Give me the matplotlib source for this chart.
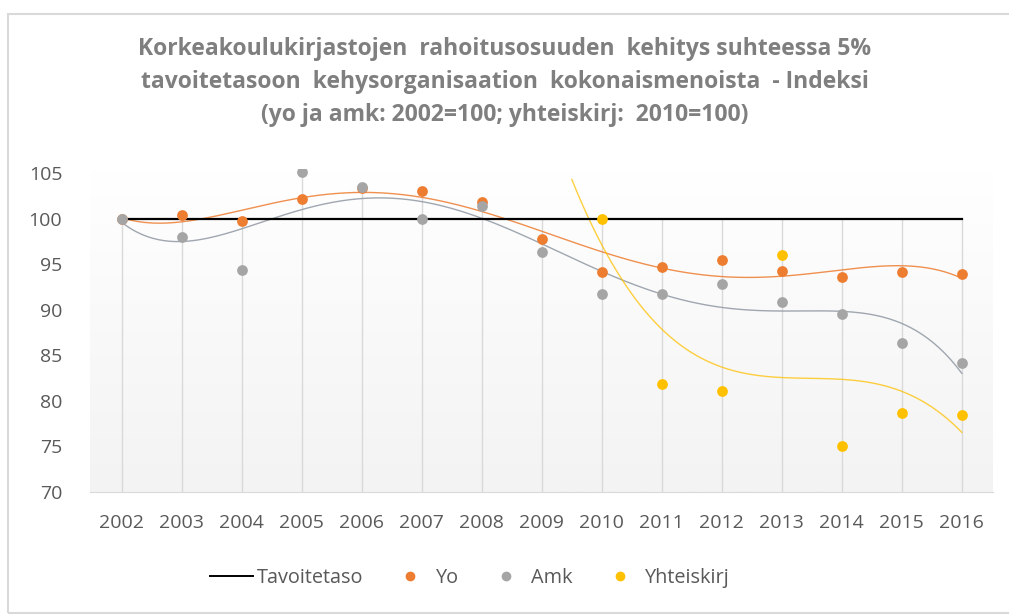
import numpy as np
import matplotlib
matplotlib.use("Agg")
import matplotlib.pyplot as plt
from matplotlib.lines import Line2D
from matplotlib.patches import Rectangle

years = list(range(2002, 2017))
tavoitetaso = [100] * 15
yo = [100.0, 100.4, 99.7, 102.1, 103.4, 103.0, 101.8, 97.8, 94.1, 94.7, 95.5, 94.3, 93.6, 94.1, 93.9]
amk = [100.0, 98.0, 94.4, 105.1, 103.5, 100.0, 101.4, 96.3, 91.7, 91.7, 92.8, 90.8, 89.5, 86.3, 84.1]
yht_years = list(range(2010, 2017))
yhteiskirj = [100.0, 81.8, 81.1, 96.0, 75.1, 78.7, 78.5]
yticks = [70, 75, 80, 85, 90, 95, 100, 105]
title = ("Korkeakoulukirjastojen  rahoitusosuuden  kehitys suhteessa 5%\n"
         "tavoitetasoon  kehysorganisaation  kokonaismenoista  - Indeksi\n"
         "(yo ja amk: 2002=100; yhteiskirj:  2010=100)")

C_YO = "#ED7D31"
C_AMK = "#A5A5A5"
C_YHT = "#FFC000"
TXT = "#595959"

plt.rcParams["font.family"] = ["Open Sans", "DejaVu Sans"]

W, H = 1009, 615
fig = plt.figure(figsize=(W / 100, H / 100), dpi=100)
fig.patch.set_facecolor("white")

ymin, ymax = 70, 105.4
px_per = (492 - 173) / 35.0
top_px = 173 - (ymax - 105) * px_per
ax = fig.add_axes([90 / W, 1 - 492 / H, (993 - 90) / W, (492 - top_px) / H])
ax.set_xlim(2001.47, 2016.52)
ax.set_ylim(ymin, ymax)

# subtle background gradient (white at top, light gray at bottom)
grad = np.linspace(0.0, 1.0, 256).reshape(-1, 1)
ax.imshow(grad, extent=(2001.47, 2016.52, ymin, ymax), aspect="auto",
          cmap=matplotlib.colors.LinearSegmentedColormap.from_list("g", ["#f3f3f3", "#ffffff"]),
          zorder=0, origin="lower")

# drop lines to max of all series
yht_full = {y: v for y, v in zip(yht_years, yhteiskirj)}
for i, yr in enumerate(years):
    vals = [tavoitetaso[i], yo[i], amk[i]]
    if yr in yht_full:
        vals.append(yht_full[yr])
    ax.vlines(yr, ymin, max(vals), color="#d9d9d9", lw=1.0, zorder=1)

ax.plot(years, tavoitetaso, color="black", lw=1.6, zorder=3)

# polynomial trend lines
x = np.array(years, dtype=float)
xs = np.linspace(2002, 2016, 300)
p = np.polyfit(x - 2002, yo, 5)
ax.plot(xs, np.polyval(p, xs - 2002), color=C_YO, lw=1.0, alpha=0.85, zorder=2)
p = np.polyfit(x - 2002, amk, 5)
ax.plot(xs, np.polyval(p, xs - 2002), color="#9098a3", lw=1.0, alpha=0.85, zorder=2)
xy = np.array(yht_years, dtype=float)
p = np.polyfit(xy - 2010, yhteiskirj, 3)
xs2 = np.linspace(2009.5, 2016, 300)
ax.plot(xs2, np.polyval(p, xs2 - 2010), color=C_YHT, lw=1.0, alpha=0.75, zorder=2)

ms = 60
ax.scatter(years, yo, s=ms, color=C_YO, zorder=4, linewidths=0)
ax.scatter(years, amk, s=ms, color=C_AMK, zorder=4, linewidths=0)
ax.scatter(yht_years, yhteiskirj, s=ms, color=C_YHT, zorder=5, linewidths=0)

for s in ["top", "right", "left"]:
    ax.spines[s].set_visible(False)
ax.spines["bottom"].set_color("#d9d9d9")
ax.set_xticks(years)
ax.set_xticklabels([str(y) for y in years])
ax.set_yticks(yticks)
ax.tick_params(axis="both", length=0, labelsize=14, labelcolor=TXT)
ax.tick_params(axis="x", pad=16)
ax.tick_params(axis="y", pad=20)

fig.text(0.5, 1 - 82 / H, title, ha="center", va="center", fontsize=16.5,
         fontweight="bold", color="#7f7f7f", linespacing=1.5)

handles = [
    Line2D([0], [0], color="black", lw=1.4),
    Line2D([0], [0], marker="o", ls="", color=C_YO, markersize=6),
    Line2D([0], [0], marker="o", ls="", color=C_AMK, markersize=6),
    Line2D([0], [0], marker="o", ls="", color=C_YHT, markersize=6),
]
leg = fig.legend(handles, ["Tavoitetaso", "Yo", "Amk", "Yhteiskirj"], loc="center",
                 bbox_to_anchor=(470 / W, 1 - 578 / H), ncol=4, frameon=False,
                 fontsize=14.3, handlelength=2.16, handletextpad=0.2, columnspacing=1.28)
for t in leg.get_texts():
    t.set_color(TXT)

fig.patches.append(Rectangle((8 / W, 1 - 613 / H), (1015 - 8) / W, (613 - 14) / H,
                             transform=fig.transFigure, fill=False, edgecolor="#d9d9d9",
                             lw=1.5, clip_on=False))

fig.savefig("out.png", dpi=100)
